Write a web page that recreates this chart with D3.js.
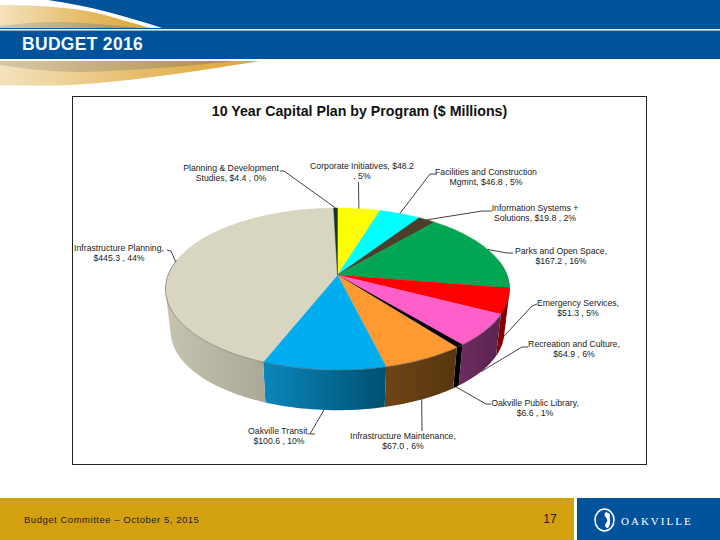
<!DOCTYPE html>
<html>
<head>
<meta charset="utf-8">
<script src="https://cdn.jsdelivr.net/npm/d3@7"></script>
<style>
  html, body { margin: 0; padding: 0; background: #fff; }
  svg { display: block; }
  text { font-family: "Liberation Sans", Arial, sans-serif; }
</style>
</head>
<body>
<svg width="720" height="540"></svg>
<script>
// values, clockwise from 12 o'clock
const programs = ['Corporate Initiatives', 'Facilities and Construction Mgmnt', 'Information Systems + Solutions',
  'Parks and Open Space', 'Emergency Services', 'Recreation and Culture', 'Oakville Public Library',
  'Infrastructure Maintenance', 'Oakville Transit', 'Infrastructure Planning', 'Planning & Development Studies'];
const amounts = [48.2, 46.8, 19.8, 167.2, 51.3, 64.9, 6.6, 67.0, 100.6, 445.3, 4.4];
const labelLines = [
  ['Corporate Initiatives,  $48.2', ', 5%'],
  ['Facilities and Construction', 'Mgmnt,  $46.8 , 5%'],
  ['Information Systems +', 'Solutions,  $19.8 , 2%'],
  ['Parks and Open Space,', '$167.2 , 16%'],
  ['Emergency Services,', '$51.3 , 5%'],
  ['Recreation and Culture,', '$64.9 , 6%'],
  ['Oakville Public Library,', '$6.6 , 1%'],
  ['Infrastructure Maintenance,', '$67.0 , 6%'],
  ['Oakville Transit,', '$100.6 , 10%'],
  ['Infrastructure Planning,', '$445.3 , 44%'],
  ['Planning  & Development', 'Studies,  $4.4 , 0%']
];

const topColors = ['#ffff00', '#00ffff', '#4b3f2a', '#00a651', '#ff0000', '#ff5fc9', '#000000', '#ff9a33', '#00aeef', '#d8d5c1', '#12352c'];
const wallLight = ['#999900', '#009999', '#2d2619', '#006331', '#8b0000', '#6c2c60', '#000000', '#6e4414', '#0b86bb', '#c6c4b0', '#0a201a'];
const wallDark = ['#666600', '#006666', '#1e1910', '#00421f', '#7a0000', '#5a2450', '#000000', '#583610', '#00506f', '#aaa896', '#06140f'];

// label layout: text centre, elbow of the leader line, how far down the wall it lands (0 top rim, 1 bottom rim)
const labelLayout = [
  { x: 362, y: 169, elbow: [[358.5, 182]], rim: 0 },
  { x: 486, y: 175, elbow: [[436, 174], [430, 174]], rim: 0 },
  { x: 535, y: 211, elbow: [[492, 211], [482, 211]], rim: 0 },
  { x: 561, y: 254, elbow: [[513, 253], [507, 253]], rim: 0 },
  { x: 578, y: 306, elbow: [[537, 304], [532, 306]], rim: 0.85 },
  { x: 574, y: 347, elbow: [[528, 347], [522, 347]], rim: 1 },
  { x: 535, y: 406, elbow: [[491, 404], [486, 404]], rim: 1 },
  { x: 403, y: 439, elbow: [[422, 431]], rim: 1 },
  { x: 279, y: 434, elbow: [[315, 434], [310, 434]], rim: 1 },
  { x: 119, y: 251, elbow: [[167, 250], [171, 251]], rim: 0 },
  { x: 231, y: 171, elbow: [[280, 171], [284, 171]], rim: 0 }
];

const svg = d3.select('svg');
const defs = svg.append('defs');

// ---- slide furniture ----
const goldFade = defs.append('linearGradient').attr('id', 'goldFade');
goldFade.append('stop').attr('offset', '0%').attr('stop-color', '#f3e2bd');
goldFade.append('stop').attr('offset', '55%').attr('stop-color', '#e6bc68');
goldFade.append('stop').attr('offset', '100%').attr('stop-color', '#dba52f');
const tanFade = defs.append('linearGradient').attr('id', 'tanFade');
tanFade.append('stop').attr('offset', '0%').attr('stop-color', '#d6c8a8');
tanFade.append('stop').attr('offset', '100%').attr('stop-color', '#b08c45');

svg.append('rect').attr('x', 0).attr('y', 0).attr('width', 720).attr('height', 59).attr('fill', '#00529b');
svg.append('path').attr('d', 'M0,0 L48,0 C90,6 125,16 162,28 L0,28 Z').attr('fill', '#fff');
svg.append('path').attr('d', 'M0,5 C40,5 80,8 105,15 C120,19 135,24 150,28 L0,28 Z').attr('fill', 'url(#goldFade)');
svg.append('path').attr('d', 'M0,26 C30,22 60,21 85,23 C105,25 125,26 140,28 L0,28 Z').attr('fill', 'url(#tanFade)');
svg.append('rect').attr('x', 0).attr('y', 29).attr('width', 720).attr('height', 1.6).attr('fill', '#d9f2f7');
svg.append('path').attr('d', 'M0,59 L300,59 L260,61 C190,74 110,86 40,86 L0,86 Z').attr('fill', '#fff');
svg.append('path').attr('d', 'M0,61 L260,61 C190,72 110,85 45,85.5 L0,85.5 Z').attr('fill', 'url(#goldFade)');
svg.append('path').attr('d', 'M0,61 L235,61 C190,66 130,71 80,72 C50,72 20,68 0,65 Z').attr('fill', 'url(#tanFade)');
svg.append('text').attr('x', 22).attr('y', 49.5).attr('font-size', 17.5).attr('font-weight', 700)
  .attr('letter-spacing', 0.3).attr('fill', '#eefaff').text('BUDGET 2016');

svg.append('rect').attr('x', 0).attr('y', 498).attr('width', 574).attr('height', 42).attr('fill', '#d3a00f');
svg.append('rect').attr('x', 577).attr('y', 498).attr('width', 143).attr('height', 42).attr('fill', '#00529b');
svg.append('text').attr('x', 24).attr('y', 523).attr('font-size', 9.5).attr('letter-spacing', 0.53)
  .attr('fill', '#222').text('Budget Committee – October 5, 2015');
svg.append('text').attr('x', 550).attr('y', 523).attr('font-size', 12).attr('text-anchor', 'middle')
  .attr('fill', '#222').text('17');
svg.append('ellipse').attr('cx', 604.5).attr('cy', 520).attr('rx', 9.5).attr('ry', 11)
  .attr('fill', 'none').attr('stroke', '#fff').attr('stroke-width', 1.6);
svg.append('path').attr('d', 'M606,512 C601,516 611,519 606,523 C604,526 606,528 608,528 C612,523 609,518 610,514 Z').attr('fill', '#fff');
svg.append('text').attr('x', 621).attr('y', 525).attr('font-size', 11).attr('letter-spacing', 2)
  .style('font-family', '"Liberation Serif", serif').attr('fill', '#fff').text('OAKVILLE');

// chart frame
svg.append('rect').attr('x', 72.5).attr('y', 96.5).attr('width', 574).attr('height', 368)
  .attr('fill', '#fff').attr('stroke', '#222').attr('stroke-width', 1);
svg.append('text').attr('x', 359.5).attr('y', 116).attr('text-anchor', 'middle')
  .attr('font-size', 14.2).attr('font-weight', 700).attr('fill', '#111')
  .text('10 Year Capital Plan by Program ($ Millions)');

// ---- pie ----
const pie = d3.pie().sort(null).value(d => d);
const arcs = pie(amounts);

// tilted disc: perspective projection of the unit circle
const apex = [337.5, 275];
const persp = 0.173, radX = 169.4, radY = 78.6;
const project = (a, scale = 1, drop = 0) => {
  const u = Math.sin(a), v = -Math.cos(a);
  const w = 1 - persp * v;
  return [apex[0] + scale * radX * u / w, apex[1] + drop + scale * radY * v / w];
};
const lowScale = 0.97, lowDrop = 43;
const topRim = a => project(a);
const lowRim = a => project(a, lowScale, lowDrop);

const line = d3.line();
const sampleAngles = d => d3.range(0, 1.0001, 1 / Math.max(2, Math.ceil((d.endAngle - d.startAngle) * 40)))
  .map(t => d.startAngle + t * (d.endAngle - d.startAngle));
// only the near part of the rim shows a wall
const frontAngles = d => sampleAngles(d).filter(a => -Math.cos(a) > -0.2);

// swept wall: one small quad per rim step, all wound the same way
const wallPath = d => d3.pairs(frontAngles(d)).map(([a, b]) => {
  const quad = [topRim(a), topRim(b), lowRim(b), lowRim(a)];
  if (d3.polygonArea(quad) < 0) quad.reverse();
  return line(quad) + 'Z';
}).join('');

arcs.forEach((d, i) => {
  const g = defs.append('linearGradient').attr('id', `wall${i}`);
  g.append('stop').attr('offset', '0%').attr('stop-color', wallLight[i]);
  g.append('stop').attr('offset', '100%').attr('stop-color', wallDark[i]);
});
svg.append('g').selectAll('path').data(arcs).join('path')
  .attr('d', wallPath)
  .attr('fill', (d, i) => `url(#wall${i})`);

// top faces
svg.append('g').selectAll('path').data(arcs).join('path')
  .attr('d', d => line([apex].concat(sampleAngles(d).map(topRim))) + 'Z')
  .attr('fill', (d, i) => topColors[i])
  .attr('stroke', (d, i) => topColors[i])
  .attr('stroke-width', 0.4);

// thin dark edge along the near rim
svg.append('g').selectAll('path').data(arcs).join('path')
  .attr('d', d => line(frontAngles(d).map(topRim)))
  .attr('fill', 'none').attr('stroke', '#555').attr('stroke-width', 0.5);

// leader lines
svg.append('g').selectAll('path').data(arcs).join('path')
  .attr('d', (d, i) => {
    const mid = (d.startAngle + d.endAngle) / 2;
    const anchor = d3.interpolate(topRim(mid), lowRim(mid))(labelLayout[i].rim);
    return line(labelLayout[i].elbow.concat([anchor]));
  })
  .attr('fill', 'none').attr('stroke', '#111').attr('stroke-width', 0.8);

// labels
const labels = svg.append('g').selectAll('text').data(labelLines).join('text')
  .attr('text-anchor', 'middle').attr('font-size', 8.7).attr('fill', '#222');
labels.selectAll('tspan').data((d, i) => d.map(t => ({ t, i }))).join('tspan')
  .attr('x', d => labelLayout[d.i].x)
  .attr('y', (d, j) => labelLayout[d.i].y + j * 10)
  .text(d => d.t);
</script>
</body>
</html>
